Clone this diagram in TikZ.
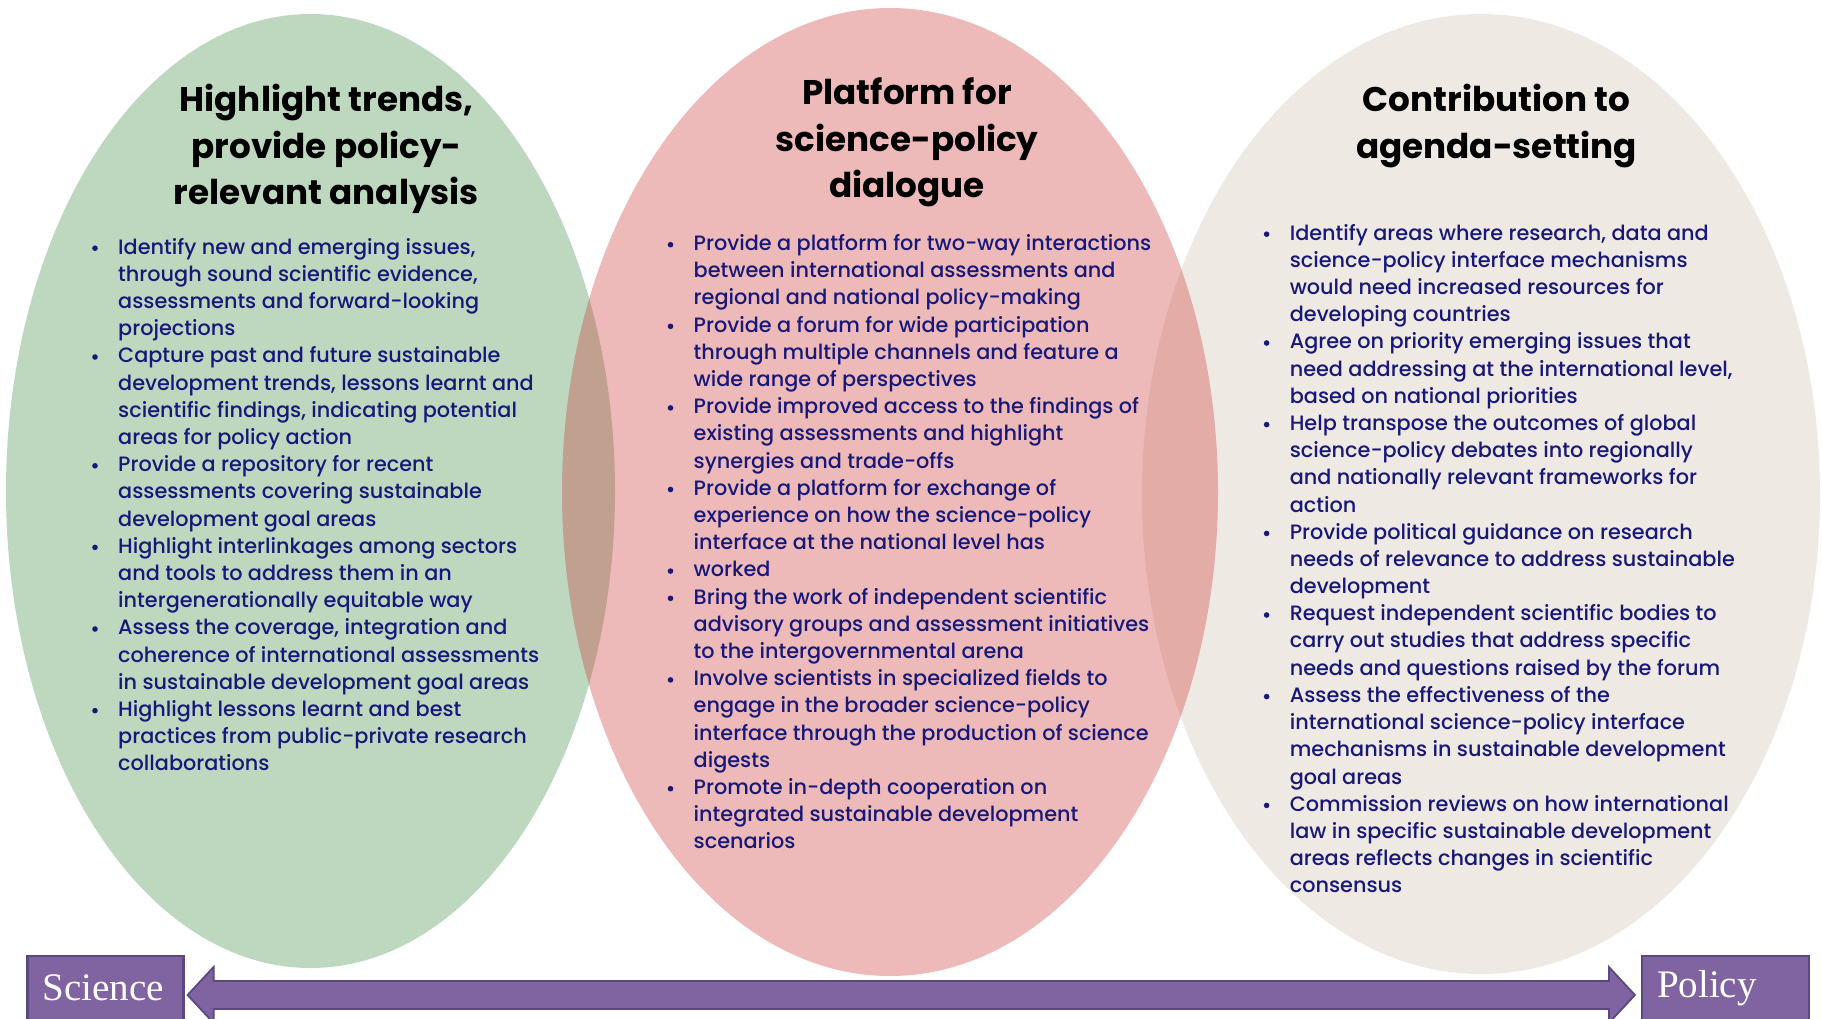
\documentclass[tikz,border=0pt]{standalone}
\usepackage{fontspec}
\setmainfont{Poppins}
\newfontfamily\bodyfont{Poppins Medium}
\newfontfamily\boxserif{Liberation Serif}
\usetikzlibrary{calc}
\definecolor{ggreen}{RGB}{190,216,192}
\definecolor{gbeige}{RGB}{239,233,227}
\definecolor{gpink}{RGB}{203,48,45}
\definecolor{navy}{RGB}{24,24,120}
\definecolor{purp}{RGB}{128,100,162}
\definecolor{purpdark}{RGB}{92,72,128}
\newcommand{\bul}{\makebox[26pt][l]{\tikz[baseline={(0pt,-5.8pt)}]\fill[navy] (0pt,0pt) circle (2.8pt);}}
\tikzset{
  blist/.style={inner sep=0pt, anchor=base west, text=navy, font=\bodyfont\fontsize{20.8}{27.2}\selectfont},
  ttl/.style={inner sep=0pt, anchor=base, text=black, font=\fontsize{34.2}{46.8}\selectfont\bfseries},
  endbox/.style={draw=purpdark, line width=2.2pt, fill=purp, text=white, minimum height=64pt, inner xsep=15pt, align=left, font=\boxserif\fontsize{39}{40}\selectfont},
}
\begin{document}
\begin{tikzpicture}[x=1pt,y=-1pt]
\useasboundingbox (0,0) rectangle (1822,1019);
\clip (0,0) rectangle (1822,1019);
\fill[white] (0,0) rectangle (1822,1019);
% ellipses
\fill[ggreen] (310.5,491) ellipse [x radius=304.5, y radius=477];
\fill[gbeige] (1481,494) ellipse [x radius=339, y radius=480];
\fill[gpink, opacity=0.33] (890,492) ellipse [x radius=328, y radius=484];
% titles
\node[ttl] (t1) at (326.5,111.3) {\begin{tabular}[t]{@{}c@{}}Highlight trends,\\provide policy-\\relevant analysis\end{tabular}};
\node[ttl] (t2) at (907,104.3) {\begin{tabular}[t]{@{}c@{}}Platform for\\science-policy\\dialogue\end{tabular}};
\node[ttl] (t3) at (1496.6,111.3) {\begin{tabular}[t]{@{}c@{}}Contribution to\\agenda-setting\end{tabular}};
% lists
\node[blist] (l1) at (92,254) {\begin{tabular}[t]{@{}l@{}l@{}}
\bul & Identify new and emerging issues,\\
 & through sound scientific evidence,\\
 & assessments and forward-looking\\
 & projections\\
\bul & Capture past and future sustainable\\
 & development trends, lessons learnt and\\
 & scientific findings, indicating potential\\
 & areas for policy action\\
\bul & Provide a repository for recent\\
 & assessments covering sustainable\\
 & development goal areas\\
\bul & Highlight interlinkages among sectors\\
 & and tools to address them in an\\
 & intergenerationally equitable way\\
\bul & Assess the coverage, integration and\\
 & coherence of international assessments\\
 & in sustainable development goal areas\\
\bul & Highlight lessons learnt and best\\
 & practices from public-private research\\
 & collaborations
\end{tabular}};
\node[blist] (l2) at (667.5,250.5) {\begin{tabular}[t]{@{}l@{}l@{}}
\bul & Provide a platform for two-way interactions\\
 & between international assessments and\\
 & regional and national policy-making\\
\bul & Provide a forum for wide participation\\
 & through multiple channels and feature a\\
 & wide range of perspectives\\
\bul & Provide improved access to the findings of\\
 & existing assessments and highlight\\
 & synergies and trade-offs\\
\bul & Provide a platform for exchange of\\
 & experience on how the science-policy\\
 & interface at the national level has\\
\bul & worked\\
\bul & Bring the work of independent scientific\\
 & advisory groups and assessment initiatives\\
 & to the intergovernmental arena\\
\bul & Involve scientists in specialized fields to\\
 & engage in the broader science-policy\\
 & interface through the production of science\\
 & digests\\
\bul & Promote in-depth cooperation on\\
 & integrated sustainable development\\
 & scenarios
\end{tabular}};
\node[blist] (l3) at (1263.6,240) {\begin{tabular}[t]{@{}l@{}l@{}}
\bul & Identify areas where research, data and\\
 & science-policy interface mechanisms\\
 & would need increased resources for\\
 & developing countries\\
\bul & Agree on priority emerging issues that\\
 & need addressing at the international level,\\
 & based on national priorities\\
\bul & Help transpose the outcomes of global\\
 & science-policy debates into regionally\\
 & and nationally relevant frameworks for\\
 & action\\
\bul & Provide political guidance on research\\
 & needs of relevance to address sustainable\\
 & development\\
\bul & Request independent scientific bodies to\\
 & carry out studies that address specific\\
 & needs and questions raised by the forum\\
\bul & Assess the effectiveness of the\\
 & international science-policy interface\\
 & mechanisms in sustainable development\\
 & goal areas\\
\bul & Commission reviews on how international\\
 & law in specific sustainable development\\
 & areas reflects changes in scientific\\
 & consensus
\end{tabular}};
% end boxes
\node[endbox, text width=126pt] (sci) at (105.5,988) {Science};
\node[endbox, text width=137pt] (pol) at (1725.5,988) {Policy};
% double arrow between the boxes
\draw[fill=purp, draw=purpdark, line width=1.8pt, line join=miter]
  ($(sci.east)+(3,7)$) -- ($(sci.east)+(29,-21)$) -- ($(sci.east)+(29,-7)$)
  -- ($(pol.west)+(-32,-7)$) -- ($(pol.west)+(-32,-21)$) -- ($(pol.west)+(-6,7)$)
  -- ($(pol.west)+(-32,35)$) -- ($(pol.west)+(-32,21)$)
  -- ($(sci.east)+(29,21)$) -- ($(sci.east)+(29,35)$) -- cycle;
\end{tikzpicture}
\end{document}
